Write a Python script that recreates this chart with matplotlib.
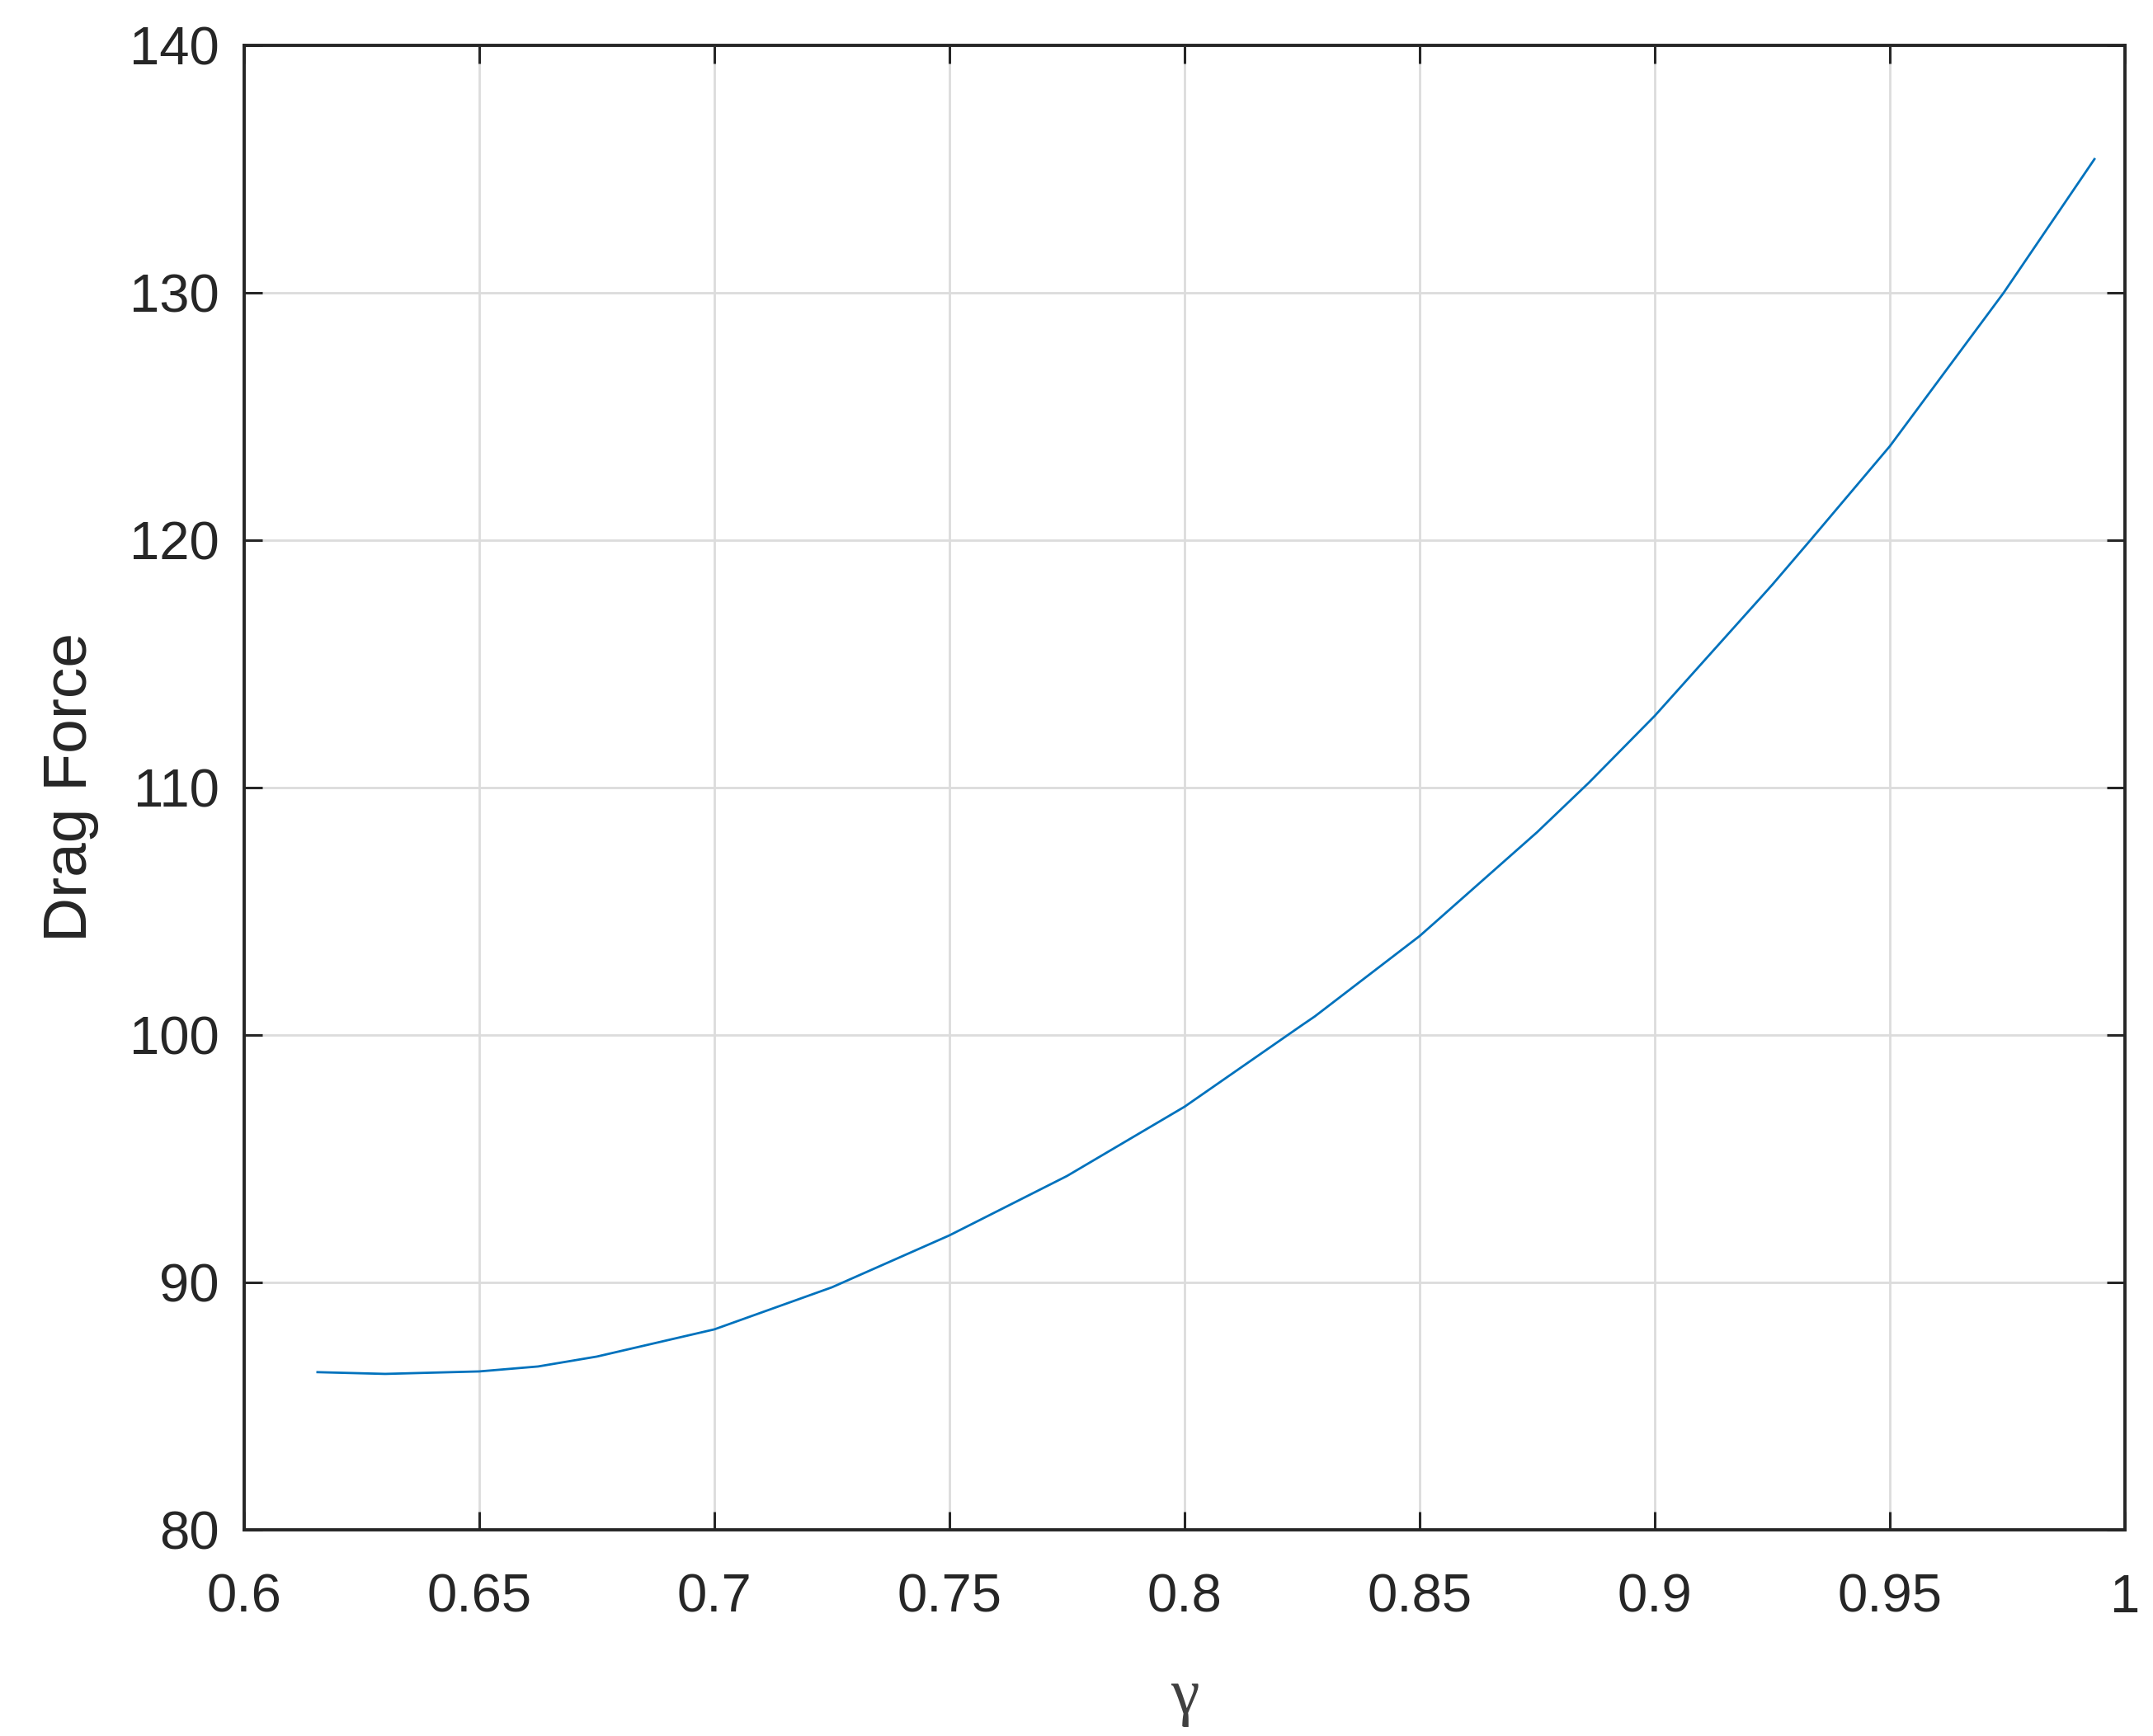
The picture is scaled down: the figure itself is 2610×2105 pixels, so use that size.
import matplotlib
matplotlib.use("Agg")
import matplotlib.pyplot as plt

# Values
gamma = [0.6156, 0.630, 0.650, 0.6625, 0.675, 0.700, 0.725, 0.750, 0.775,
         0.800, 0.825, 0.8277, 0.850, 0.875, 0.886, 0.900, 0.925, 0.9331,
         0.950, 0.9742, 0.9935]
drag_force = [86.37, 86.30, 86.40, 86.60, 87.00, 88.10, 89.80, 91.90, 94.30,
              97.10, 100.40, 100.75, 104.00, 108.20, 110.20, 112.90, 118.20,
              120.00, 123.80, 130.00, 135.40]

x_ticks = [0.6, 0.65, 0.7, 0.75, 0.8, 0.85, 0.9, 0.95, 1.0]
x_tick_labels = ["0.6", "0.65", "0.7", "0.75", "0.8", "0.85", "0.9", "0.95", "1"]
y_ticks = [80, 90, 100, 110, 120, 130, 140]

TEXT = "#262626"

plt.rcParams.update({"font.family": ["Liberation Sans", "DejaVu Sans"]})

fig = plt.figure(figsize=(26.1, 21.05), dpi=100)
ax = fig.add_axes([0.1134, 0.1188, 0.8736, 0.8551])

ax.plot(gamma, drag_force, color="#0072BD", linewidth=2.0, zorder=3)

ax.set_xlim(0.6, 1.0)
ax.set_ylim(80, 140)
ax.set_xticks(x_ticks)
ax.set_xticklabels(x_tick_labels)
ax.set_yticks(y_ticks)

ax.grid(True, color="#DCDCDC", linewidth=2.0)
ax.set_axisbelow(True)

for spine in ax.spines.values():
    spine.set_linewidth(2.8)
    spine.set_color(TEXT)

ax.tick_params(axis="both", direction="in", length=16, width=2.2,
               top=True, right=True, colors=TEXT, labelsize=47)
ax.tick_params(axis="x", pad=38)
ax.tick_params(axis="y", pad=22)

ax.set_ylabel("Drag Force", fontsize=54, color=TEXT)
ax.yaxis.set_label_coords(-0.077, 0.50)
# upright serif gamma, like the MATLAB tex label
ax.set_xlabel("γ", fontsize=56, color="#404040",
              family=["Liberation Serif", "DejaVu Serif"])
ax.xaxis.set_label_coords(0.5, -0.093)
ax.xaxis.label.set_verticalalignment("top")

fig.savefig("out.png", dpi=100, facecolor="white")
